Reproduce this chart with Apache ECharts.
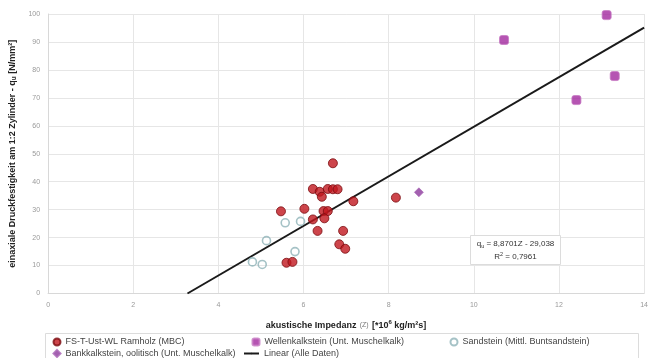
<!DOCTYPE html>
<html>
<head>
<meta charset="utf-8">
<script src="https://cdn.jsdelivr.net/npm/echarts@6/dist/echarts.min.js"></script>
<style>
html,body{margin:0;padding:0;background:#fff;}
#chart{width:651px;height:358px;}
</style>
</head>
<body>
<div id="chart"></div>
<script>
// FS-T-Ust-WL Ramholz (MBC)
const ramholzX = [6.69, 6.22, 6.38, 6.43, 6.57, 6.69, 6.80, 7.17, 5.47, 6.02, 6.47, 6.57, 6.22, 6.49, 6.33, 6.93, 6.84, 6.98, 5.60, 5.74, 8.17];
const ramholzY = [46.6, 37.4, 36.4, 34.6, 37.4, 37.3, 37.3, 33.0, 29.4, 30.3, 29.5, 29.5, 26.5, 26.9, 22.4, 22.4, 17.6, 16.0, 11.0, 11.3, 34.3];
// Wellenkalkstein (Unt. Muschelkalk)
const wellenX = [10.71, 13.12, 13.31, 12.41];
const wellenY = [90.7, 99.6, 77.8, 69.2];
// Sandstein (Mittl. Buntsandstein)
const sandX = [5.57, 5.93, 5.13, 5.80, 4.80, 5.03];
const sandY = [25.3, 25.8, 18.9, 15.0, 11.3, 10.4];
// Bankkalkstein, oolitisch (Unt. Muschelkalk)
const bankX = [8.71];
const bankY = [36.2];
// Linear (Alle Daten)
const trendX = [3.274, 14];
const trendY = [0, 95.14];

const xTicks = [0, 2, 4, 6, 8, 10, 12, 14];
const yTicks = [0, 10, 20, 30, 40, 50, 60, 70, 80, 90, 100];

const names = ['FS-T-Ust-WL Ramholz (MBC)', 'Wellenkalkstein (Unt. Muschelkalk)', 'Sandstein (Mittl. Buntsandstein)', 'Bankkalkstein, oolitisch (Unt. Muschelkalk)', 'Linear (Alle Daten)'];

const zip = (a, b) => a.map((v, i) => [v, b[i]]);
const FONT = 'Liberation Sans, Arial, sans-serif';

const chart = echarts.init(document.getElementById('chart'), null, {renderer: 'canvas'});

function leg(name, left, top, extra) {
  return Object.assign({
    data: [name], left: left, top: top, orient: 'horizontal', padding: 0,
    itemWidth: 7, itemHeight: 7, itemGap: 0,
    textStyle: {fontFamily: FONT, fontSize: 9, color: '#444'},
    selectedMode: false
  }, extra || {});
}

chart.setOption({
  animation: false,
  backgroundColor: '#fff',
  grid: {left: 40.7, right: 6, top: 14, bottom: 64.5, containLabel: false},
  xAxis: {
    type: 'value', min: xTicks[0], max: xTicks[xTicks.length - 1], interval: 2,
    name: '{b|akustische Impedanz} {n|(Z)} {b|[*10}{sup|6}{b| kg/m²s]}',
    nameLocation: 'middle', nameGap: 26,
    nameTextStyle: {
      rich: {
        b: {fontFamily: FONT, fontSize: 9, fontWeight: 'bold', color: '#222'},
        n: {fontFamily: FONT, fontSize: 7, color: '#777'},
        sup: {fontFamily: FONT, fontSize: 6, fontWeight: 'bold', color: '#222', verticalAlign: 'top', padding: [0, 0, 5, 0]}
      }
    },
    axisLine: {show: true, lineStyle: {color: '#d8d8d8', width: 1}},
    axisTick: {show: false},
    axisLabel: {fontFamily: FONT, fontSize: 7, color: '#999', margin: 8},
    splitLine: {show: true, lineStyle: {color: '#e6e6e6', width: 1}}
  },
  yAxis: {
    type: 'value', min: yTicks[0], max: yTicks[yTicks.length - 1], interval: 10,
    name: '{b|einaxiale Druckfestigkeit am 1:2 Zylinder - q}{s|u}{b| [N/mm²]}',
    nameLocation: 'middle', nameGap: 27, nameRotate: 90,
    nameTextStyle: {
      rich: {
        b: {fontFamily: FONT, fontSize: 9, fontWeight: 'bold', color: '#222'},
        s: {fontFamily: FONT, fontSize: 6.5, fontWeight: 'bold', color: '#222', verticalAlign: 'bottom', padding: [3, 0, 0, 0]}
      }
    },
    axisLine: {show: true, lineStyle: {color: '#d8d8d8', width: 1}},
    axisTick: {show: false},
    axisLabel: {fontFamily: FONT, fontSize: 7, color: '#999', margin: 8},
    splitLine: {show: true, lineStyle: {color: '#e6e6e6', width: 1}}
  },
  legend: [
    leg(names[0], 52.5, 337.5),
    leg(names[1], 251.5, 337.5),
    leg(names[2], 449.5, 337.5),
    leg(names[3], 52.5, 349),
    leg(names[4], 243, 349, {itemWidth: 15, itemHeight: 2})
  ],
  graphic: [
    {type: 'rect', shape: {x: 45.5, y: 333.5, width: 593, height: 40}, style: {fill: 'none', stroke: '#dcdcdc', lineWidth: 1}, silent: true, z: 0},
    {type: 'rect', shape: {x: 470.5, y: 235.5, width: 90, height: 29}, style: {fill: '#fff', stroke: '#dcdcdc', lineWidth: 1}, z: 10},
    {type: 'text', x: 515.5, y: 244, z: 11, style: {
      text: '{t|q}{s|u}{t| = 8,8701Z - 29,038}', align: 'center', verticalAlign: 'middle',
      rich: {t: {fontFamily: FONT, fontSize: 8, fill: '#333'}, s: {fontFamily: FONT, fontSize: 5.5, fill: '#333', verticalAlign: 'bottom', padding: [4, 0, 0, 0]}}
    }},
    {type: 'text', x: 515.5, y: 256.5, z: 11, style: {
      text: '{t|R}{p|2}{t| = 0,7961}', align: 'center', verticalAlign: 'middle',
      rich: {t: {fontFamily: FONT, fontSize: 8, fill: '#333'}, p: {fontFamily: FONT, fontSize: 5.5, fill: '#333', verticalAlign: 'top', padding: [0, 0, 4, 0]}}
    }}
  ],
  series: [
    {
      name: names[4], type: 'line', data: zip(trendX, trendY), showSymbol: false, symbol: 'none',
      lineStyle: {color: '#1a1a1a', width: 2}, itemStyle: {color: '#1a1a1a'}, z: 3
    },
    {
      name: names[2], type: 'scatter', data: zip(sandX, sandY), symbol: 'circle', symbolSize: 8,
      itemStyle: {color: 'rgba(255,255,255,0)', borderColor: '#8fb3b8', borderWidth: 1.6}, z: 4
    },
    {
      name: names[0], type: 'scatter', data: zip(ramholzX, ramholzY), symbol: 'circle', symbolSize: 9,
      itemStyle: {color: '#c0161e', borderColor: '#7a0c10', borderWidth: 1}, z: 5
    },
    {
      name: names[1], type: 'scatter', data: zip(wellenX, wellenY), symbol: 'roundRect', symbolSize: 9,
      itemStyle: {color: '#a3299f', borderColor: '#c77ac3', borderWidth: 1}, z: 5
    },
    {
      name: names[3], type: 'scatter', data: zip(bankX, bankY), symbol: 'diamond', symbolSize: 9,
      itemStyle: {color: '#8c3a9c', borderColor: '#a965b5', borderWidth: 0.8}, z: 5
    }
  ]
});
</script>
</body>
</html>
